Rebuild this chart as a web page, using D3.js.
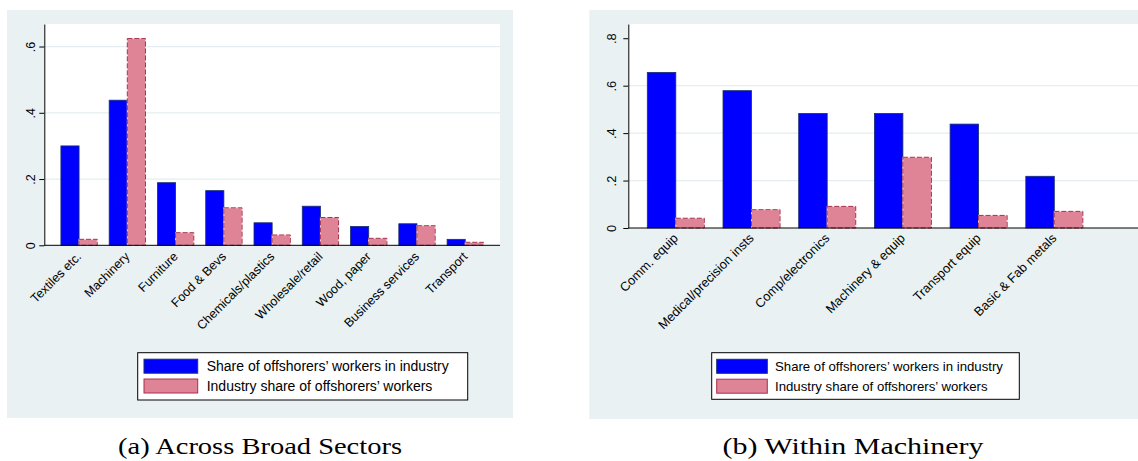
<!DOCTYPE html>
<html>
<head>
<meta charset="utf-8">
<script src="https://cdn.jsdelivr.net/npm/d3@7"></script>
<style>
  html, body { margin: 0; padding: 0; background: #ffffff; }
  svg { display: block; }
  text { font-family: "Liberation Sans", Arial, sans-serif; fill: #000; }
</style>
</head>
<body>
<svg id="chart" width="1138" height="461"></svg>
<script>
// ---------------- DATA ----------------
const seriesNames = ["Share of offshorers\u2019 workers in industry", "Industry share of offshorers\u2019 workers"];

// Panel (a): Across Broad Sectors
const categoriesA = ["Textiles etc.", "Machinery", "Furniture", "Food & Bevs", "Chemicals/plastics",
                     "Wholesale/retail", "Wood, paper", "Business services", "Transport"];
const shareInIndustryA = [0.300, 0.438, 0.189, 0.165, 0.068, 0.118, 0.057, 0.065, 0.018];
const industryShareA   = [0.018, 0.624, 0.038, 0.113, 0.031, 0.084, 0.021, 0.059, 0.009];
const yTicksA = [0, 0.2, 0.4, 0.6];
const yGridA  = [0.2, 0.4, 0.6];
const captionA = "(a) Across Broad Sectors";

// Panel (b): Within Machinery
const categoriesB = ["Comm. equip", "Medical/precision insts", "Comp/electronics",
                     "Machinery & equip", "Transport equip", "Basic & Fab metals"];
const shareInIndustryB = [0.656, 0.579, 0.483, 0.483, 0.438, 0.218];
const industryShareB   = [0.041, 0.077, 0.091, 0.298, 0.053, 0.070];
const yTicksB = [0, 0.2, 0.4, 0.6, 0.8];
const yGridB  = [0.2, 0.4, 0.6];
const captionB = "(b) Within Machinery";

// ---------------- STYLE ----------------
const BG = "#e9f1f2";
const GRID = "#e4eef0";
const BLUE = "#0000ff";
const BLUE_STROKE = "#1b2f6b";
const PINK = "#df8396";
const PINK_STROKE = "#a8304c";

const svg = d3.select("#chart");
const fmt = d => d === 0 ? "0" : String(+d.toFixed(1)).replace(/^0/, "");

function drawPanel(cfg) {
  const g = svg.append("g");
  // graph region background
  g.append("rect").attr("x", cfg.bg[0]).attr("y", cfg.bg[1])
    .attr("width", cfg.bg[2] - cfg.bg[0]).attr("height", cfg.bg[3] - cfg.bg[1])
    .attr("fill", BG);
  // plot region
  g.append("rect").attr("x", cfg.plot[0]).attr("y", cfg.plot[1])
    .attr("width", cfg.plot[2] - cfg.plot[0]).attr("height", cfg.plot[3] - cfg.plot[1])
    .attr("fill", "#ffffff");

  const y = d3.scaleLinear().domain([0, cfg.yMax]).range([cfg.plot[3], cfg.plot[1]]);
  const x0 = d3.scaleBand().domain(cfg.categories).range(cfg.bandRange)
    .paddingInner(cfg.padInner).paddingOuter(cfg.padOuter);
  const x1 = d3.scaleBand().domain([0, 1]).range([0, x0.bandwidth()]);

  // gridlines
  g.append("g").selectAll("line").data(cfg.grid).join("line")
    .attr("x1", cfg.plot[0]).attr("x2", cfg.plot[2])
    .attr("y1", d => y(d)).attr("y2", d => y(d))
    .attr("stroke", GRID).attr("stroke-width", 1.2);

  // bars
  const rows = cfg.categories.map((c, i) => ({ c, v: [cfg.s1[i], cfg.s2[i]] }));
  const grp = g.append("g").selectAll("g").data(rows).join("g")
    .attr("transform", d => `translate(${x0(d.c)},0)`);
  grp.append("rect")
    .attr("x", x1(0)).attr("width", x1.bandwidth())
    .attr("y", d => y(d.v[0])).attr("height", d => y(0) - y(d.v[0]))
    .attr("fill", BLUE).attr("stroke", BLUE_STROKE).attr("stroke-width", 0.8);
  grp.append("rect")
    .attr("x", x1(1)).attr("width", x1.bandwidth())
    .attr("y", d => y(d.v[1])).attr("height", d => y(0) - y(d.v[1]))
    .attr("fill", PINK).attr("stroke", "#f4d6dc").attr("stroke-width", 1);
  grp.append("rect")
    .attr("x", x1(1)).attr("width", x1.bandwidth())
    .attr("y", d => y(d.v[1])).attr("height", d => y(0) - y(d.v[1]))
    .attr("fill", "none").attr("stroke", PINK_STROKE).attr("stroke-width", 1)
    .attr("stroke-dasharray", "5,2");

  // y axis
  const yAx = g.append("g").attr("transform", `translate(${cfg.plot[0]},0)`)
    .call(d3.axisLeft(y).tickValues(cfg.yTicks).tickFormat(fmt).tickSize(5).tickSizeOuter(0));
  yAx.select(".domain").attr("stroke", "#000").attr("stroke-width", 1);
  yAx.selectAll(".tick line").attr("stroke", "#000");
  yAx.selectAll(".tick text")
    .attr("x", null).attr("dy", null)
    .attr("transform", `translate(${-cfg.yLabOff},0) rotate(-90)`)
    .attr("text-anchor", "middle")
    .style("font-family", "'Liberation Sans', Arial, sans-serif")
    .style("font-size", cfg.fs + "px");

  // x axis line
  g.append("line").attr("x1", cfg.plot[0]).attr("x2", cfg.plot[2])
    .attr("y1", y(0)).attr("y2", y(0)).attr("stroke", "#000").attr("stroke-width", 1);
  // x labels
  const xAx = g.append("g").attr("transform", `translate(0,${y(0)})`)
    .call(d3.axisBottom(x0).tickSize(0).tickSizeOuter(0));
  xAx.select(".domain").remove();
  xAx.selectAll(".tick text")
    .attr("y", null).attr("dy", null)
    .attr("transform", `translate(${cfg.xLabDx},${cfg.xLabDy}) rotate(-45)`)
    .attr("text-anchor", "end")
    .style("font-family", "'Liberation Sans', Arial, sans-serif")
    .style("font-size", cfg.fs + "px");

  // legend
  const L = cfg.legend;
  g.append("rect").attr("x", L.box[0]).attr("y", L.box[1])
    .attr("width", L.box[2] - L.box[0]).attr("height", L.box[3] - L.box[1])
    .attr("fill", "#fff").attr("stroke", "#000").attr("stroke-width", 1);
  const leg = g.append("g").selectAll("g").data(seriesNames).join("g")
    .attr("transform", (d, i) => `translate(${L.sw[0]},${L.rows[i]})`);
  leg.append("rect").attr("width", L.sw[1]).attr("height", L.swH)
    .attr("fill", (d, i) => i === 0 ? BLUE : PINK)
    .attr("stroke", (d, i) => i === 0 ? BLUE_STROKE : PINK_STROKE)
    .attr("stroke-width", 1);
  leg.append("text").attr("x", L.textX - L.sw[0]).attr("y", L.swH - 2.5)
    .style("font-size", L.fs + "px").text(d => d);

  // caption
  svg.append("text").attr("x", cfg.cap[0]).attr("y", cfg.cap[1])
    .attr("text-anchor", "middle")
    .style("font-family", "'Liberation Serif', 'DejaVu Serif', serif")
    .style("font-size", "24px")
    .attr("textLength", cfg.cap[2]).attr("lengthAdjust", "spacingAndGlyphs")
    .text(cfg.caption);
}

drawPanel({
  bg: [7, 10, 513, 418], plot: [44.3, 24, 500, 245.3],
  yMax: 0.668, categories: categoriesA, s1: shareInIndustryA, s2: industryShareA,
  bandRange: [44.3, 500], padInner: 0.248, padOuter: 0.344,
  grid: yGridA, yTicks: yTicksA, yLabOff: 9.5, fs: 12.5, xLabDx: 3, xLabDy: 12,
  legend: { box: [137.7, 352.7, 467.7, 400], sw: [144, 53.7], swH: 14, rows: [359.2, 379], textX: 206.7, fs: 14 },
  cap: [260, 454, 284], caption: captionA
});

drawPanel({
  bg: [589.3, 10, 1140, 419], plot: [628.3, 24, 1140, 228],
  yMax: 0.86, categories: categoriesB, s1: shareInIndustryB, s2: industryShareB,
  bandRange: [628.3, 1101.8], padInner: 0.247, padOuter: 0.251,
  grid: yGridB, yTicks: yTicksB, yLabOff: 12.6, fs: 12.8, xLabDx: 3, xLabDy: 11,
  legend: { box: [711.7, 352.7, 1019.3, 399.3], sw: [716.7, 50.6], swH: 14, rows: [359.3, 379.2], textX: 775, fs: 13.2 },
  cap: [853, 454, 261], caption: captionB
});
</script>
</body>
</html>
